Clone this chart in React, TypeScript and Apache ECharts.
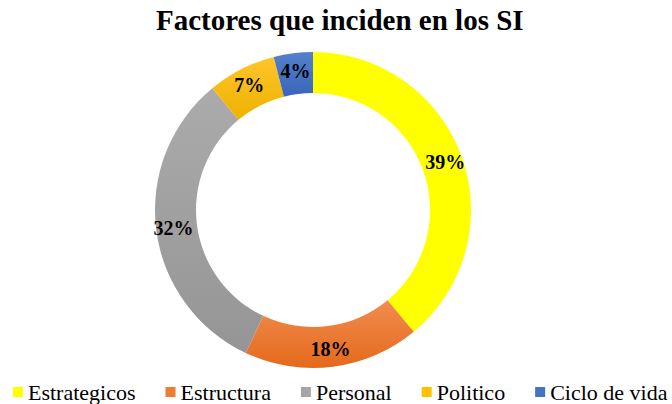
import React, { useEffect, useRef } from "react";
import * as echarts from "echarts";

const categories = ["Estrategicos", "Estructura", "Personal", "Politico", "Ciclo de vida"];
const values = [39, 18, 32, 7, 4];
const colorsTop = ["#FFFF00", "#F28C4E", "#ABABAB", "#FFC52A", "#5580CC"];
const colorsBottom = ["#FFFF00", "#E46A1C", "#959595", "#EDB200", "#3A66BA"];
const legendColors = ["#FFFF00", "#ED7D31", "#A5A5A5", "#FFC000", "#4472C4"];

const FONT = "Liberation Serif, Times New Roman, serif";

export default function App() {
  const ref = useRef<HTMLDivElement>(null);
  useEffect(() => {
    document.body.style.margin = "0";
    const chart = echarts.init(ref.current!, null, { renderer: "svg" });
    chart.setOption({
      animation: false,
      title: {
        text: "Factores que inciden en los SI",
        left: 151,
        top: 0,
        textStyle: { fontFamily: FONT, fontWeight: "bold", fontSize: 29, color: "#000" },
      },
      legend: {
        top: 381,
        left: 13,
        width: 659,
        padding: 0,
        itemWidth: 10,
        itemHeight: 10,
        itemGap: 30,
        icon: "rect",
        textStyle: { fontFamily: FONT, fontSize: 22, color: "#000" },
        data: categories.map((c, i) => ({ name: c, itemStyle: { color: legendColors[i] } })),
      },
      series: [
        {
          type: "pie",
          center: [313, 210],
          radius: [117, 158],
          startAngle: 90,
          clockwise: true,
          label: {
            show: true,
            position: "inside",
            formatter: "{d}%",
            fontFamily: FONT,
            fontWeight: "bold",
            fontSize: 20,
            color: "#000",
          },
          labelLine: { show: false },
          emphasis: { disabled: true },
          data: categories.map((c, i) => ({
            name: c,
            value: values[i],
            itemStyle: {
              color: new echarts.graphic.LinearGradient(0, 0, 0, 1, [
                { offset: 0, color: colorsTop[i] },
                { offset: 1, color: colorsBottom[i] },
              ]),
            },
          })),
        },
      ],
    });
    return () => chart.dispose();
  }, []);
  return <div ref={ref} style={{ width: 672, height: 404 }} />;
}
